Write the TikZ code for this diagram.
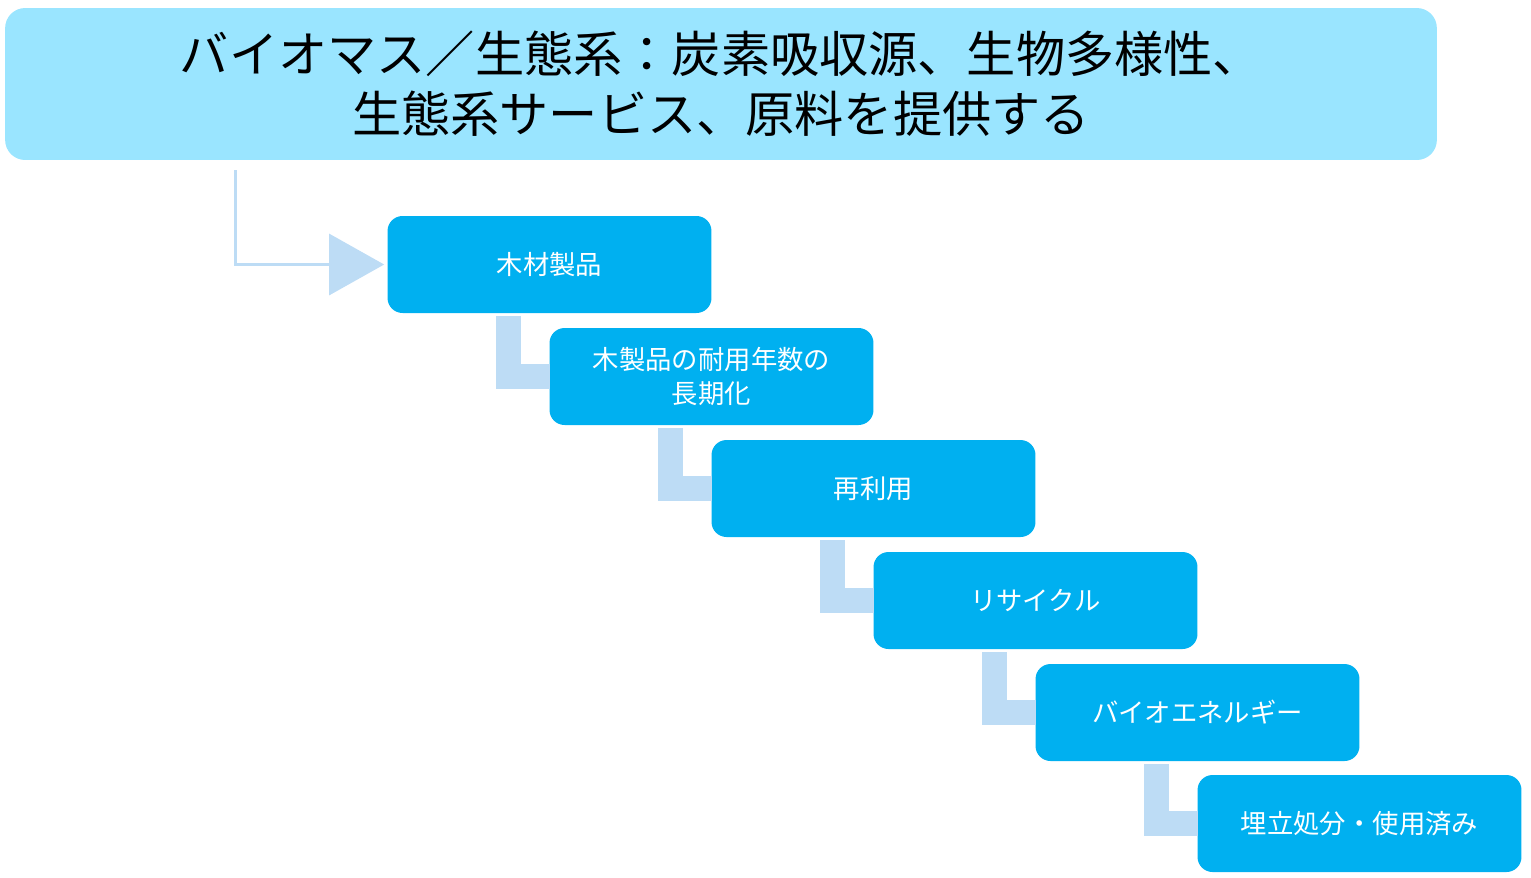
\documentclass[tikz,border=0pt]{standalone}
\usepackage{fontspec}
\setmainfont{Noto Sans CJK JP}
\usetikzlibrary{arrows.meta}
\definecolor{topblue}{HTML}{9AE5FF}
\definecolor{stepblue}{HTML}{00B0F0}
\definecolor{linkblue}{HTML}{BDDCF5}
\tikzset{
  stepbox/.style={fill=stepblue, rounded corners=0.3cm, minimum width=6.48cm, minimum height=1.94cm,
    text=white, font=\fontsize{15}{19}\selectfont, align=center, inner sep=0pt},
  link/.style={draw=linkblue, line width=0.5cm},
}
\begin{document}
\begin{tikzpicture}[x=0.02cm,y=-0.02cm]
    \useasboundingbox (0,0) rectangle (1531,877);
    \node[fill=topblue, rounded corners=0.4cm, minimum width=28.64cm, minimum height=3.04cm,
      align=center, font=\fontsize{28}{34}\selectfont] (T) at (721,84)
      {バイオマス／生態系：炭素吸収源、生物多様性、\\生態系サービス、原料を提供する};

    \node[stepbox] (S1) at (549.5,264.5) {木材製品};
    \node[stepbox] (S2) at (711.5,376.5) {木製品の耐用年数の\\長期化};
    \node[stepbox] (S3) at (873.5,488.5) {再利用};
    \node[stepbox] (S4) at (1035.5,600.5) {リサイクル};
    \node[stepbox] (S5) at (1197.5,712.5) {バイオエネルギー};
    \node[stepbox] (S6) at (1359.5,823.5) {埋立処分・使用済み};

    % links between the steps
    \foreach \a/\b in {S1/S2,S2/S3,S3/S4,S4/S5,S5/S6}{
      \coordinate (\a l) at ([xshift=2.42cm,yshift=-0.06cm]\a.south west);
      \draw[link] (\a l) |- ([xshift=0.02cm]\b.west);
    }

    \coordinate (Tl) at (235,170);
    \draw[draw=linkblue, line width=0.06cm, -{Triangle[length=1.1cm,width=1.22cm,fill=linkblue]}]
      (Tl) |- ([xshift=-0.06cm]S1.west);
\end{tikzpicture}
\end{document}
